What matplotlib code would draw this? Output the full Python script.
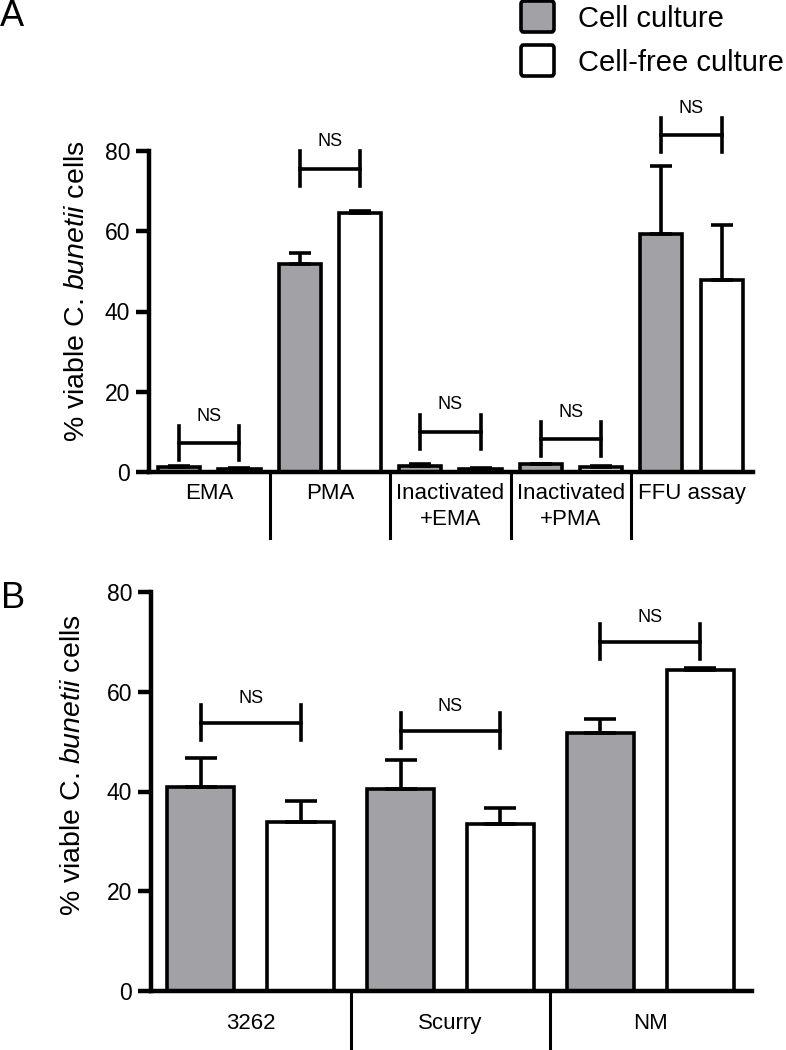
import matplotlib

matplotlib.use("Agg")
import matplotlib.pyplot as plt
from matplotlib.patches import FancyBboxPatch

plt.rcParams["font.family"] = ["Liberation Sans", "DejaVu Sans"]
plt.rcParams["mathtext.fontset"] = "custom"
plt.rcParams["mathtext.rm"] = "Liberation Sans"
plt.rcParams["mathtext.it"] = "Liberation Sans:italic"

# Panel A: viability dyes vs FFU assay
treatments = ["EMA", "PMA", "Inactivated\n+EMA", "Inactivated\n+PMA", "FFU assay"]
cell_culture_a = [1.2, 51.9, 1.5, 1.9, 59.4]
cell_culture_a_err = [0.2, 2.7, 0.4, 0.2, 16.9]
cell_free_a = [0.8, 64.6, 0.7, 1.2, 47.9]
cell_free_a_err = [0.2, 0.5, 0.2, 0.2, 13.7]
bracket_a = [7.2, 75.6, 10.0, 8.2, 84.0]

# Panel B: strains
strains = ["3262", "Scurry", "NM"]
cell_culture_b = [41.0, 40.6, 51.8]
cell_culture_b_err = [5.8, 5.8, 2.8]
cell_free_b = [33.8, 33.4, 64.4]
cell_free_b_err = [4.2, 3.2, 0.4]
bracket_b = [53.8, 52.2, 70.0]

yticks = [0, 20, 40, 60, 80]
series_labels = ["Cell culture", "Cell-free culture"]

GRAY = "#a2a2a6"
LW_AX = 3.2
LW = 2.6
W, H = 786, 1050


def fx(px):
    return px / W


def fy(py):
    return 1 - py / H


def draw_panel(ax, groups, gray, gray_err, white, white_err, brackets,
               width, xlim, capsize, tick_half, ns_gap, sep_drop, label_pad):
    n = len(groups)
    xg = [2 * i for i in range(n)]
    xw = [2 * i + 1 for i in range(n)]
    ax.bar(xg, gray, width, color=GRAY, edgecolor="black", linewidth=LW, zorder=2)
    ax.bar(xw, white, width, color="white", edgecolor="black", linewidth=LW, zorder=2)
    for xs, vals, errs in ((xg, gray, gray_err), (xw, white, white_err)):
        ax.errorbar(xs, vals, yerr=[[0] * n, errs], fmt="none", ecolor="black",
                    elinewidth=LW, capsize=capsize, capthick=LW, zorder=3)
    # NS brackets
    for a, b, y in zip(xg, xw, brackets):
        ax.plot([a, b], [y, y], color="black", lw=LW, clip_on=False, zorder=4)
        for x in (a, b):
            ax.plot([x, x], [y - tick_half, y + tick_half], color="black", lw=LW,
                    clip_on=False, zorder=4)
        ax.text((a + b) / 2, y + ns_gap, "NS", fontsize=13, ha="center",
                va="center")
    # group separators below the axis
    trans = ax.get_xaxis_transform()
    for i in range(1, n):
        x = 2 * i - 0.5
        ax.plot([x, x], [0, -sep_drop], color="black", lw=2.2, transform=trans,
                clip_on=False)
    ax.set_xticks([2 * i + 0.5 for i in range(n)], groups, fontsize=16,
                  linespacing=1.3)
    ax.tick_params(axis="x", length=0, pad=label_pad)
    ax.set_xlim(*xlim)
    ax.set_ylim(0, 80)
    ax.set_yticks(yticks)
    ax.tick_params(axis="y", direction="out", length=9.5, width=LW_AX,
                   labelsize=16.5, pad=4)
    for s in ("top", "right"):
        ax.spines[s].set_visible(False)
    for s in ("left", "bottom"):
        ax.spines[s].set_linewidth(LW_AX)
        ax.spines[s].set_capstyle("projecting")
    ax.set_ylabel(r"% viable C. $\it{bunetii}$ cells", fontsize=20.5)


fig = plt.figure(figsize=(W / 100, H / 100), dpi=100)

ax_a = fig.add_axes([fx(149), fy(472), fx(753) - fx(149), fy(151) - fy(472)])
draw_panel(ax_a, treatments, cell_culture_a, cell_culture_a_err, cell_free_a,
           cell_free_a_err, bracket_a, width=0.7, xlim=(-0.5, 9.52),
           capsize=8, tick_half=4.3, ns_gap=6.7, sep_drop=66 / 321,
           label_pad=8)
ax_a.yaxis.set_label_coords(-0.097, 0.564)

ax_b = fig.add_axes([fx(151), fy(991), fx(752) - fx(151), fy(592) - fy(991)])
draw_panel(ax_b, strains, cell_culture_b, cell_culture_b_err, cell_free_b,
           cell_free_b_err, bracket_b, width=0.67, xlim=(-0.5, 5.52),
           capsize=11.5, tick_half=3.5, ns_gap=4.8, sep_drop=59 / 399,
           label_pad=16)
ax_b.yaxis.set_label_coords(-0.108, 0.566)

# legend drawn by hand in figure pixels
for (top, color), label in zip(((1, GRAY), (45, "white")), series_labels):
    fig.add_artist(FancyBboxPatch((fx(521), fy(top + 31)), fx(33), 31 / H,
                                  boxstyle="round,pad=0,rounding_size=0.003",
                                  facecolor=color, edgecolor="black",
                                  linewidth=2.6, transform=fig.transFigure))
    fig.text(fx(578), fy(top + 18), label, fontsize=21, ha="left", va="center")

fig.text(fx(0), fy(-1), "A", fontsize=26, ha="left", va="top")
fig.text(fx(1), fy(581), "B", fontsize=26, ha="left", va="top")

fig.savefig("out.png", dpi=100)
